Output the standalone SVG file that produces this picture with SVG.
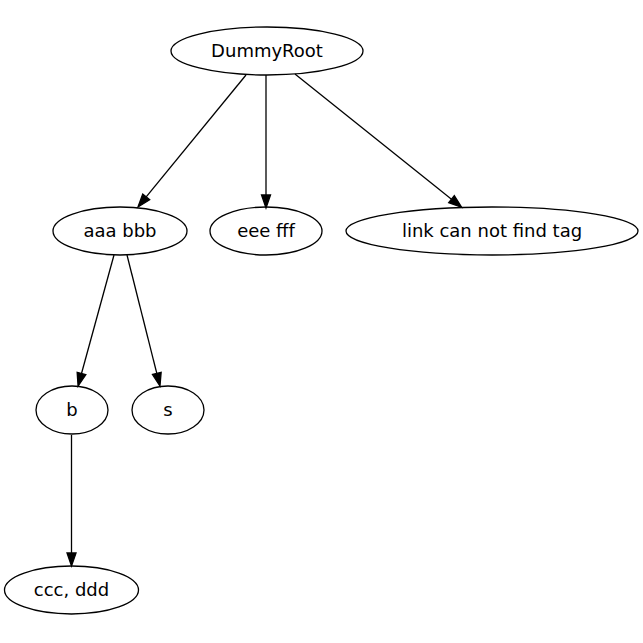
<svg xmlns="http://www.w3.org/2000/svg" width="643" height="643" viewBox="0 0 643 643">
<style>
.node ellipse{fill:none;stroke:#000;stroke-width:1.3}
.node text{font-family:"DejaVu Sans",sans-serif;font-size:18px;fill:#000;text-anchor:middle}
.edges path{fill:none;stroke:#000;stroke-width:1.3}
</style>
<defs>
<marker id="arr" markerUnits="userSpaceOnUse" markerWidth="14" markerHeight="10" refX="0" refY="5" orient="auto" viewBox="0 0 14 10" overflow="visible">
<path d="M0,0.5 L13,5 L0,9.5 Z" fill="#000" stroke="#000" stroke-width="1.3"/>
</marker>
</defs>
<rect width="643" height="643" fill="#fff"/>
<g class="edges">
<path d="M246,75 L146.2,196.9" marker-end="url(#arr)"/>
<path d="M266,75 L266,195" marker-end="url(#arr)"/>
<path d="M295,74 L451.5,199.2" marker-end="url(#arr)"/>
<path d="M114,255 L81.5,373.5" marker-end="url(#arr)"/>
<path d="M127,255 L156.8,373.4" marker-end="url(#arr)"/>
<path d="M71.5,435 L71.5,553" marker-end="url(#arr)"/>
</g>
<g id="DummyRoot" class="node"><ellipse cx="267" cy="51" rx="96" ry="24"/><text x="267" y="57">DummyRoot</text></g>
<g id="aaa_bbb" class="node"><ellipse cx="120" cy="231" rx="67" ry="24"/><text x="120" y="237">aaa bbb</text></g>
<g id="eee_fff" class="node"><ellipse cx="266" cy="231" rx="56" ry="24"/><text x="266" y="237">eee fff</text></g>
<g id="link" class="node"><ellipse cx="492" cy="231" rx="146" ry="24"/><text x="492" y="237">link can not find tag</text></g>
<g id="b" class="node"><ellipse cx="72" cy="410" rx="36" ry="24"/><text x="72" y="416">b</text></g>
<g id="s" class="node"><ellipse cx="168" cy="410" rx="36" ry="24"/><text x="168" y="416">s</text></g>
<g id="ccc_ddd" class="node"><ellipse cx="71.5" cy="590" rx="67" ry="24"/><text x="71.5" y="596">ccc, ddd</text></g>
</svg>
